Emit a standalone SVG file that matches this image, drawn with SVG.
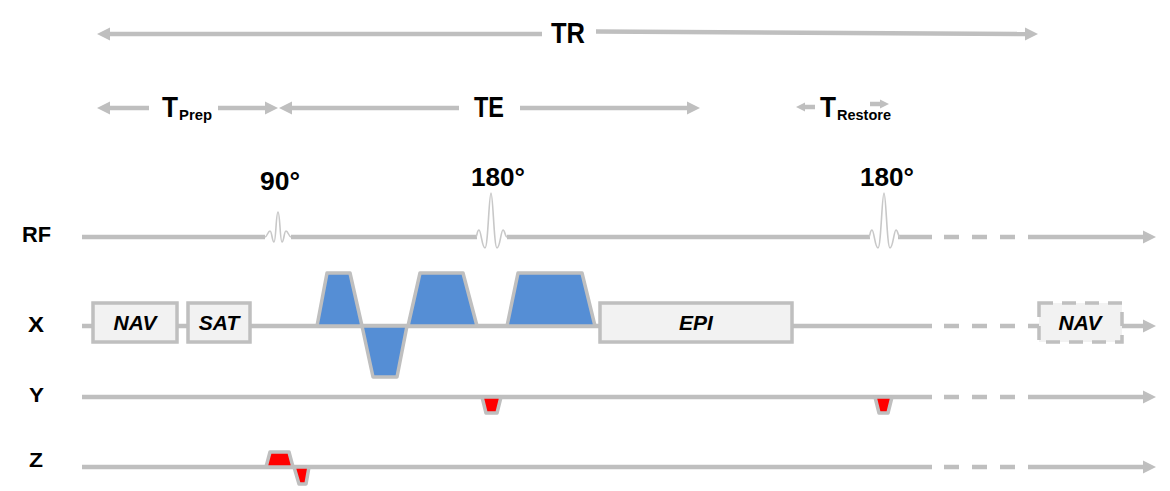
<svg xmlns="http://www.w3.org/2000/svg" width="1170" height="491" viewBox="0 0 1170 491">
<style>
.ax{stroke:#BFBFBF;stroke-width:4.5;fill:none}
.dash{stroke:#BFBFBF;stroke-width:4.5;fill:none;stroke-dasharray:15 13}
.lbl{font-family:"Liberation Sans",Arial,sans-serif;font-weight:bold;fill:#000}
.box{fill:#F2F2F2;stroke:#BFBFBF;stroke-width:3.5}
.boxd{fill:#F2F2F2;stroke:#BFBFBF;stroke-width:3.5;stroke-dasharray:14 9}
.bt{font-family:"Liberation Sans",Arial,sans-serif;font-weight:bold;font-style:italic;font-size:21px;fill:#000;text-anchor:middle}
.gb{fill:#558ED5;stroke:#BFBFBF;stroke-width:3.5;stroke-linejoin:round}
.gr{fill:#FF0000;stroke:#BFBFBF;stroke-width:3.5;stroke-linejoin:round}
.rf{fill:none;stroke:#C8C8C8;stroke-width:1.6;stroke-linejoin:round}
</style>
<defs>
<marker id="ah" markerUnits="userSpaceOnUse" markerWidth="14" markerHeight="14" viewBox="0 0 14 14" refX="1" refY="7" orient="auto-start-reverse"><path d="M0,0.5 L13,7 L0,13.5 z" fill="#BFBFBF"/></marker>
<marker id="ahs" markerUnits="userSpaceOnUse" markerWidth="10" markerHeight="10" viewBox="0 0 10 10" refX="1" refY="5" orient="auto-start-reverse"><path d="M0,0.5 L9,5 L0,9.5 z" fill="#BFBFBF"/></marker>
</defs>

<g id="connectors">
<line class="ax" x1="109" y1="34" x2="542" y2="34" marker-start="url(#ah)"/>
<line class="ax" x1="596" y1="31.5" x2="1026" y2="34" marker-end="url(#ah)"/>
<line class="ax" x1="109" y1="108" x2="149" y2="108" marker-start="url(#ah)"/>
<line class="ax" x1="218" y1="108" x2="266" y2="108" marker-end="url(#ah)"/>
<line class="ax" x1="291" y1="108" x2="459" y2="108" marker-start="url(#ah)"/>
<line class="ax" x1="520" y1="108" x2="688" y2="108" marker-end="url(#ah)"/>
<line class="ax" x1="804" y1="107" x2="815" y2="107" marker-start="url(#ahs)"/>
<line class="ax" x1="870" y1="104" x2="881" y2="104" marker-end="url(#ahs)"/>

<line class="ax" x1="82" y1="237" x2="265" y2="237"/>
<line class="ax" x1="291" y1="237" x2="477" y2="237"/>
<line class="ax" x1="507" y1="237" x2="870" y2="237"/>
<line class="ax" x1="898" y1="237" x2="932" y2="237"/>
<line class="dash" x1="944" y1="237" x2="1016" y2="237"/>
<line class="ax" x1="1028" y1="237" x2="1144" y2="237" marker-end="url(#ah)"/>

<line class="ax" x1="82" y1="326" x2="932" y2="326"/>
<line class="dash" x1="944" y1="326" x2="1016" y2="326"/>
<line class="ax" x1="1028" y1="326" x2="1040" y2="326"/>
<line class="ax" x1="1122" y1="326" x2="1144" y2="326" marker-end="url(#ah)"/>

<line class="ax" x1="82" y1="397" x2="932" y2="397"/>
<line class="dash" x1="944" y1="397" x2="1016" y2="397"/>
<line class="ax" x1="1028" y1="397" x2="1144" y2="397" marker-end="url(#ah)"/>

<line class="ax" x1="82" y1="467" x2="932" y2="467"/>
<line class="dash" x1="944" y1="467" x2="1016" y2="467"/>
<line class="ax" x1="1028" y1="467" x2="1144" y2="467" marker-end="url(#ah)"/>
</g>

<g id="timing-labels">
<text class="lbl" x="551" y="43" font-size="30" textLength="34" lengthAdjust="spacingAndGlyphs">TR</text>
<text class="lbl" x="162" y="117" font-size="30" textLength="16" lengthAdjust="spacingAndGlyphs">T</text>
<text class="lbl" x="179" y="120" font-size="15" textLength="33" lengthAdjust="spacingAndGlyphs">Prep</text>
<text class="lbl" x="474" y="117" font-size="29" textLength="30" lengthAdjust="spacingAndGlyphs">TE</text>
<text class="lbl" x="820" y="117" font-size="30" textLength="16" lengthAdjust="spacingAndGlyphs">T</text>
<text class="lbl" x="837" y="120" font-size="15" textLength="54" lengthAdjust="spacingAndGlyphs">Restore</text>
</g>

<g id="row-labels">
<text class="lbl" x="22" y="242" font-size="22" textLength="29" lengthAdjust="spacingAndGlyphs">RF</text>
<text class="lbl" x="28" y="332" font-size="22" textLength="16" lengthAdjust="spacingAndGlyphs">X</text>
<text class="lbl" x="29" y="402" font-size="21" textLength="15" lengthAdjust="spacingAndGlyphs">Y</text>
<text class="lbl" x="29" y="467" font-size="21" textLength="14" lengthAdjust="spacingAndGlyphs">Z</text>
</g>

<g id="rf-90">
<path class="rf" d="M265,237 C267,237 268,231 270,231 C272,231 272,242 274,242 C276,242 276,212 278,212 C280,212 280,242 282,242 C284,242 284,231 286,231 C288,231 289,237 291,237"/>
<text class="lbl" x="260" y="190" font-size="25" textLength="40" lengthAdjust="spacingAndGlyphs">90°</text>
</g>
<g id="rf-180a">
<path class="rf" d="M476,237 C477,237 477,230 479,230 C481,230 482,248 485,248 C488,248 489,193 491,193 C493,193 494,248 497,248 C500,248 501,230 503,230 C505,230 505,237 507,237"/>
<text class="lbl" x="471" y="186" font-size="25" textLength="54" lengthAdjust="spacingAndGlyphs">180°</text>
</g>
<g id="rf-180b">
<path class="rf" d="M869,237 C870,237 870,230 872,230 C874,230 875,248 878,248 C881,248 882,193 884,193 C886,193 887,248 890,248 C893,248 894,230 896,230 C898,230 898,237 900,237"/>
<text class="lbl" x="860" y="186" font-size="25" textLength="54" lengthAdjust="spacingAndGlyphs">180°</text>
</g>

<g id="nav1"><rect class="box" x="93" y="303" width="84" height="39"/><text class="bt" x="135" y="330">NAV</text></g>
<g id="sat"><rect class="box" x="188" y="303" width="62" height="39"/><text class="bt" x="219" y="330">SAT</text></g>
<g id="gx1"><polygon class="gb" points="317,326 327,273 350,273 362,326"/></g>
<g id="gx2"><polygon class="gb" points="362,326 407,326 397,377 373,377"/></g>
<g id="gx3"><polygon class="gb" points="408,326 420,273 463,273 477,326"/></g>
<g id="gx4"><polygon class="gb" points="507,326 518,273 582,273 595,326"/></g>
<g id="epi"><rect class="box" x="600" y="303" width="192" height="39"/><text class="bt" x="696" y="330">EPI</text></g>
<g id="nav2"><rect class="boxd" x="1039" y="303" width="83" height="39"/><text class="bt" x="1080" y="330">NAV</text></g>

<g id="gy1"><polygon class="gr" points="482,397 501,397 497,413 486,413"/></g>
<g id="gy2"><polygon class="gr" points="875,397 892,397 888,413 879,413"/></g>
<g id="gz1"><polygon class="gr" points="266,467 270,452 289,452 293,467"/></g>
<g id="gz2"><polygon class="gr" points="294,467 309,467 306,484 299,484"/></g>
</svg>
